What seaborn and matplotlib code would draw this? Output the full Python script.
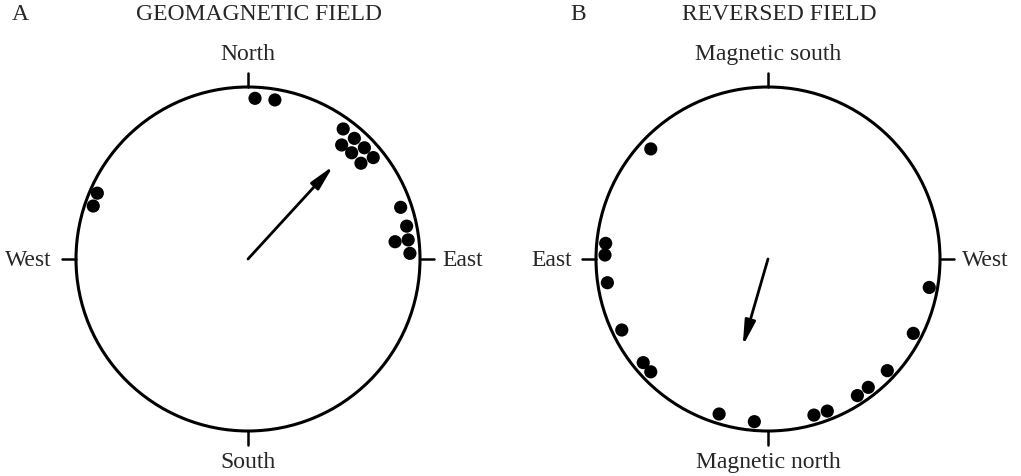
import numpy as np
import pandas as pd
import matplotlib
matplotlib.use("Agg")
import matplotlib.pyplot as plt
import seaborn as sns

# Directions read off the stereonets: angle clockwise from the top of each
# circle (degrees) and distance from centre as a fraction of the radius.
geo_angle = [2.5, 9.6, 36.2, 41.4, 39.4, 46.3, 44.3, 51.0, 49.7,
             293.6, 288.9, 71.3, 78.3, 83.3, 83.2, 88.0]
geo_radius = [0.935, 0.938, 0.937, 0.935, 0.858, 0.936, 0.863, 0.937, 0.861,
              0.956, 0.951, 0.937, 0.942, 0.861, 0.938, 0.942]
geo_mean = (42.5, 0.734)

rev_angle = [313.2, 275.5, 271.4, 261.6, 244.1, 230.3, 226.1, 197.5,
             184.8, 163.6, 158.7, 146.8, 142.0, 133.1, 117.1, 100.0]
rev_radius = [0.935, 0.948, 0.948, 0.944, 0.945, 0.943, 0.946, 0.945,
              0.949, 0.946, 0.949, 0.949, 0.947, 0.950, 0.949, 0.952]
rev_mean = (196.2, 0.527)

panels = [
    ("A", "GEOMAGNETIC FIELD", ["North", "East", "South", "West"],
     geo_angle, geo_radius, geo_mean),
    ("B", "REVERSED FIELD", ["Magnetic south", "West", "Magnetic north", "East"],
     rev_angle, rev_radius, rev_mean),
]

sns.set_style("white")
plt.rcParams["font.family"] = ["Liberation Serif", "DejaVu Serif"]

W, H = 1021, 476
R = 172.0  # pixels per unit radius
fig = plt.figure(figsize=(W / 100, H / 100), dpi=100)

# pixel layout of each panel: (left px, right px, centre x px, centre y px)
layout = [(0, 510, 248, 259), (510, 1021, 768, 259)]


def to_xy(angle, radius):
    a = np.radians(np.asarray(angle, dtype=float))
    r = np.asarray(radius, dtype=float)
    return r * np.sin(a), r * np.cos(a)


fs = 17
for (letter, title, labels, ang, rad, mean), (px0, px1, cx, cy) in zip(panels, layout):
    ax = fig.add_axes([px0 / W, 0, (px1 - px0) / W, 1])
    ax.set_xlim((px0 - cx) / R, (px1 - cx) / R)
    ax.set_ylim(-(H - cy) / R, cy / R)
    ax.axis("off")

    ax.add_patch(plt.Circle((0, 0), 1.0, fill=False, lw=2.2, color="black"))
    tick = 0.08
    ax.plot([0, 0], [1, 1 + tick], color="black", lw=1.8)
    ax.plot([0, 0], [-1, -1 - tick], color="black", lw=1.8)
    ax.plot([1, 1 + tick], [0, 0], color="black", lw=1.8)
    ax.plot([-1, -1 - tick], [0, 0], color="black", lw=1.8)

    x, y = to_xy(ang, rad)
    df = pd.DataFrame({"x": x, "y": y})
    sns.scatterplot(data=df, x="x", y="y", ax=ax, color="black", s=90,
                    edgecolor="none", zorder=3, legend=False)
    ax.set_xlabel("")
    ax.set_ylabel("")

    mx, my = to_xy([mean[0]], [mean[1]])
    ax.annotate("", xy=(mx[0], my[0]), xytext=(0, 0),
                arrowprops=dict(arrowstyle="-|>,head_length=1.5,head_width=0.32",
                                lw=2.0, color="black", shrinkA=0, shrinkB=0))

    ax.text(0, 1.19, labels[0], ha="center", va="center", fontsize=fs)
    ax.text(0, -1.185, labels[2], ha="center", va="center", fontsize=fs)
    ax.text(1.13, -0.01, labels[1], ha="left", va="center", fontsize=fs)
    ax.text(-1.14, -0.01, labels[3], ha="right", va="center", fontsize=fs)

    fig.text((cx + 11) / W, 1 - 15 / H, title, ha="center", va="center", fontsize=fs)

fig.text(20 / W, 1 - 15 / H, "A", ha="center", va="center", fontsize=fs)
fig.text(578 / W, 1 - 15 / H, "B", ha="center", va="center", fontsize=fs)

fig.savefig("out.png", dpi=100, facecolor="white")
